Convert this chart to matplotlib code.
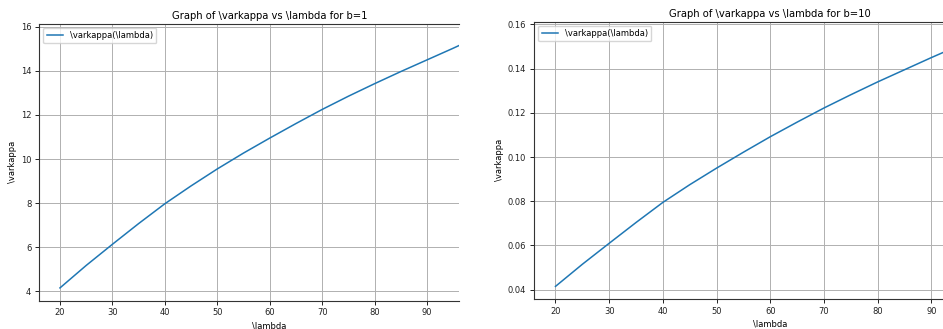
"""
Plot kappa(lambda) for two values of b, side by side
"""

import matplotlib
matplotlib.use('Agg')
import matplotlib.pyplot as plt

# values
lam = [20, 25, 30, 35, 40, 45, 50, 55, 60, 65, 70, 75, 80, 85, 90, 95, 100]
kappa_b1 = [4.15, 5.17, 6.13, 7.07, 7.97, 8.78, 9.55, 10.27, 10.95,
            11.61, 12.25, 12.85, 13.42, 13.97, 14.50, 15.03, 15.58]
kappa_b10 = [0.0415, 0.0515, 0.0610, 0.0704, 0.0795, 0.0875, 0.0950, 0.1022, 0.1092,
             0.1158, 0.1222, 0.1282, 0.1340, 0.1395, 0.1450, 0.1503, 0.1556]
b_values = [1, 10]

W, H = 943, 329
fig = plt.figure(figsize=(W / 100, H / 100), dpi=100)

# axes boxes in pixels (left, top, right, bottom); the reference is cropped on the right,
# so title and xlabel sit at the centre of the full (uncropped) axes
boxes = [(39, 23.5, 459, 300.5), (534, 21.5, 943, 299)]
xlims = [(16, 96.1), (16, 92.15)]
centres = [0.549, 0.577]

for (l, t, r, b), xl, xc, bval, ys in zip(boxes, xlims, centres, b_values,
                                          [kappa_b1, kappa_b10]):
    ax = fig.add_axes([l / W, 1 - b / H, (r - l) / W, (b - t) / H])
    ax.plot(lam, ys, color='#1f77b4', lw=1.1, label=r'\varkappa(\lambda)')
    ax.set_xlim(*xl)
    ax.margins(y=0.05)
    ax.set_xticks([20, 30, 40, 50, 60, 70, 80, 90])
    ax.grid(True, color='#b0b0b0', lw=0.7)
    ax.spines['right'].set_visible(False)
    for s in ['left', 'bottom', 'top']:
        ax.spines[s].set_color('#333333')
    ax.tick_params(labelsize=6, colors='#222222', length=3, width=0.7, pad=2.5)
    ax.set_title(r'Graph of \varkappa vs \lambda for b=%d' % bval, fontsize=7.2,
                 pad=3, x=xc)
    ax.set_xlabel(r'\lambda', fontsize=6, labelpad=3, x=xc)
    ax.set_ylabel(r'\varkappa', fontsize=6, labelpad=3)
    ax.legend(loc='upper left', fontsize=6)

plt.savefig('out.png', dpi=100)
plt.close()
